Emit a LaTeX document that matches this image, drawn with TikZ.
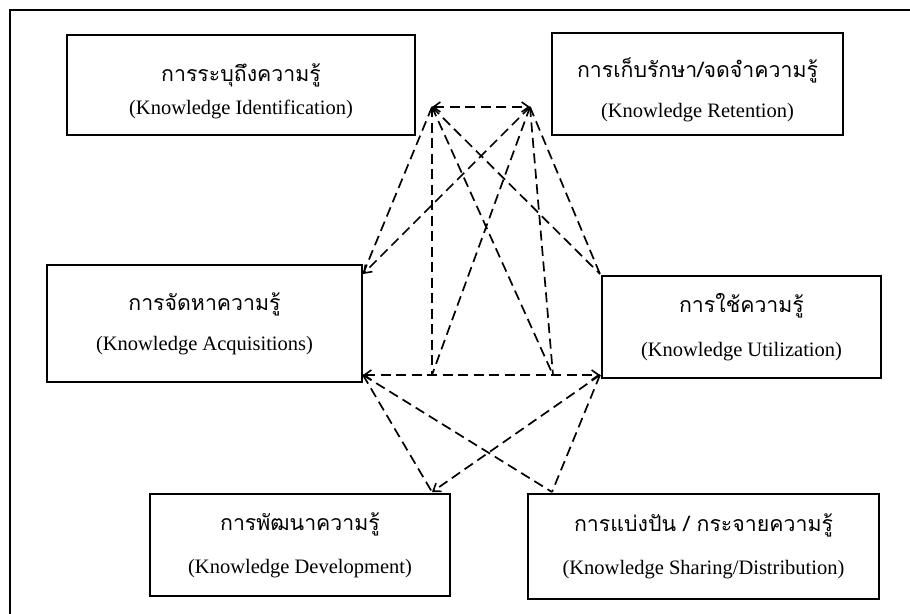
\documentclass[tikz,border=0pt]{standalone}
\usepackage{fontspec}
\setmainfont{Liberation Serif}
\newfontfamily\thai[Script=Thai]{Loma}
\usetikzlibrary{arrows.meta,calc}

\tikzset{
  kbox/.style={draw=black, line width=2pt, rectangle, align=center, inner sep=0pt,
               font=\fontsize{20.5}{23}\selectfont},
  link/.style={line width=1.7pt, dash pattern=on 10pt off 5.5pt},
  frame/.style={line width=2.6pt},
  >={Straight Barb[length=7pt,width=10pt,line width=1.6pt]}
}
% Thai title line; the optional strut lowers the whole text block a little
\newcommand{\thline}[2][0pt]{{\thai\fontsize{21.3}{24}\selectfont\rule{0pt}{#1}#2}}

\begin{document}
\begin{tikzpicture}[x=1pt,y=-1pt]
  \useasboundingbox (0,0) rectangle (910,613);
  % outer frame, open to the right and the bottom
  \begin{scope}
    \clip (0,0) rectangle (910,613);
    \draw[frame] (10,620) -- (10,10) -- (920,10);
  \end{scope}

  % the six processes
  \node[kbox, minimum width=348pt, minimum height=100pt] (idn) at (241,85)
    {\thline[31pt]{การระบุถึงความรู้}\\[10pt](Knowledge Identification)};
  \node[kbox, minimum width=291pt, minimum height=102pt] (ret) at (697.5,84)
    {\thline[31pt]{การเก็บรักษา/จดจำความรู้}\\[17pt](Knowledge Retention)};
  \node[kbox, minimum width=315pt, minimum height=117pt] (acq) at (204.5,323.5)
    {\thline{การจัดหาความรู้}\\[17pt](Knowledge Acquisitions)};
  \node[kbox, minimum width=279pt, minimum height=102pt] (utl) at (741.5,327)
    {\thline{การใช้ความรู้}\\[21pt](Knowledge Utilization)};
  \node[kbox, minimum width=300pt, minimum height=102pt] (dev) at (300,545)
    {\thline{การพัฒนาความรู้}\\[20pt](Knowledge Development)};
  \node[kbox, minimum width=351pt, minimum height=105pt] (shr) at (703.5,546.5)
    {\thline{การแบ่งปัน / กระจายความรู้}\\[20pt](Knowledge Sharing/Distribution)};

  % junction points of the dashed links
  \coordinate (P1) at (432,107);
  \coordinate (P2) at (530,107);
  \coordinate (A1) at ($(acq.north east)+(0,10)$);
  \coordinate (A2) at ($(acq.south east)+(0,-8)$);
  \coordinate (U1) at ($(utl.north west)+(-1,-1)$);
  \coordinate (U2) at ($(utl.south west)+(-1,-4)$);
  \coordinate (Q1) at (P1 |- A2);
  \coordinate (Q2) at (553,0 |- A2);
  \coordinate (D1) at ($(dev.north west)+(283,-1)$);
  \coordinate (S1) at ($(shr.north west)+(25,-1)$);

  % upper web
  \draw[link,<->] (P1) -- (P2);
  \draw[link,->] (P2) -- (A1);
  \draw[link] (P1) -- (A1);
  \draw[link] (P1) -- (U1);
  \draw[link] (P2) -- (U1);
  \draw[link] (P1) -- (Q1);
  \draw[link] (P2) -- (Q2);
  \draw[link] (P1) -- (Q2);
  \draw[link] (P2) -- (Q1);

  % middle and lower web
  \draw[link,<->] (A2) -- (U2);
  \draw[link] (A2) -- (D1);
  \draw[link] (A2) -- (S1);
  \draw[link,->] (U2) -- (D1);
  \draw[link] (U2) -- (S1);
\end{tikzpicture}
\end{document}
